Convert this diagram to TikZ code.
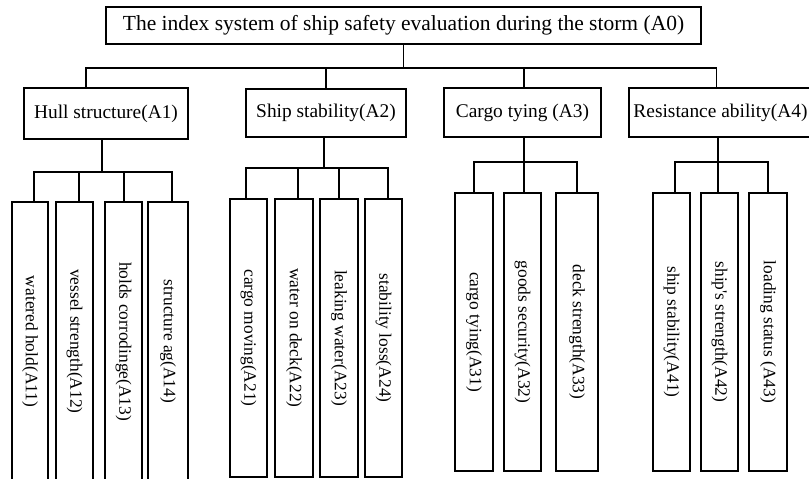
\documentclass[tikz,border=0pt]{standalone}
\usepackage{fontspec}
\setmainfont{Liberation Serif}
\begin{document}
\begin{tikzpicture}[x=1pt,y=-1pt,
  box/.style={draw, line width=1.1pt, inner sep=0pt, align=center},
  rootbox/.style={box, font=\fontsize{21.5}{24}\selectfont},
  midbox/.style={box, font=\fontsize{19.4}{22}\selectfont},
  leafbox/.style={box, font=\fontsize{17.4}{20}\selectfont},
  conn/.style={line width=1.1pt}]
\useasboundingbox (0,0) rectangle (809,479);
% root
\node[rootbox, minimum width=595pt, minimum height=37pt] (a0) at (403.5,25.5) {The index system of ship safety evaluation during the storm (A0)};
% level 1
\node[midbox, minimum width=164pt, minimum height=51pt] (a1) at (106,113.5) {Hull structure(A1)};
\node[midbox, minimum width=160pt, minimum height=48pt] (a2) at (326,113) {Ship stability(A2)};
\node[midbox, minimum width=157pt, minimum height=49pt] (a3) at (522.5,112.5) {Cargo tying (A3)};
\node[midbox, minimum width=183pt, minimum height=49pt] (a4) at (720.5,112.5) {Resistance ability(A4)};
% level 2: A1
\node[leafbox, minimum width=36pt, minimum height=279pt] (a11) at (30,341.5) {\rotatebox{-90}{watered hold(A11)}};
\node[leafbox, minimum width=37pt, minimum height=279pt] (a12) at (74.5,341.5) {\rotatebox{-90}{vessel strength(A12)}};
\node[leafbox, minimum width=37pt, minimum height=279pt] (a13) at (123.5,341.5) {\rotatebox{-90}{holds corrodinge(A13)}};
\node[leafbox, minimum width=40pt, minimum height=279pt] (a14) at (168,341.5) {\rotatebox{-90}{structure ag(A14)}};
% level 2: A2
\node[leafbox, minimum width=37pt, minimum height=278pt] (a21) at (248.5,338) {\rotatebox{-90}{cargo moving(A21)}};
\node[leafbox, minimum width=38pt, minimum height=278pt] (a22) at (294,338) {\rotatebox{-90}{water on deck(A22)}};
\node[leafbox, minimum width=38pt, minimum height=278pt] (a23) at (339,338) {\rotatebox{-90}{leaking water(A23)}};
\node[leafbox, minimum width=37pt, minimum height=278pt] (a24) at (383.5,338) {\rotatebox{-90}{stability loss(A24)}};
% level 2: A3
\node[leafbox, minimum width=38pt, minimum height=278pt] (a31) at (474,332) {\rotatebox{-90}{cargo tying(A31)}};
\node[leafbox, minimum width=37pt, minimum height=278pt] (a32) at (522.5,332) {\rotatebox{-90}{goods security(A32)}};
\node[leafbox, minimum width=42pt, minimum height=278pt] (a33) at (577,332) {\rotatebox{-90}{deck strength(A33)}};
% level 2: A4
\node[leafbox, minimum width=37pt, minimum height=278pt] (a41) at (671.5,332) {\rotatebox{-90}{ship stability(A41)}};
\node[leafbox, minimum width=37pt, minimum height=278pt] (a42) at (719.5,332) {\rotatebox{-90}{ship\textquotesingle s strength(A42)}};
\node[leafbox, minimum width=38pt, minimum height=278pt] (a43) at (768,332) {\rotatebox{-90}{loading status (A43)}};
% buses
\coordinate (b0) at (403.5,68);
\coordinate (b1) at (102,172);
\coordinate (b2) at (324,168);
\coordinate (b3) at (524,162);
\coordinate (b4) at (718,162);
% root connectors
\draw[conn] (a0.south) -- (b0);
\draw[conn] ([xshift=-20pt]a1.north) |- (b0) -| ([xshift=-3.8pt]a4.north);
\draw[conn] (b0) -| (a2.north);
\draw[conn] (b0) -| ([xshift=1.5pt]a3.north);
% A1 connectors
\draw[conn] ([xshift=-4pt]a1.south) -- (b1);
\draw[conn] ([xshift=4pt]a11.north) |- (b1) -| ([xshift=4pt]a14.north);
\draw[conn] (b1) -| ([xshift=4.5pt]a12.north);
\draw[conn] (b1) -| ([xshift=0.5pt]a13.north);
% A2 connectors
\draw[conn] ([xshift=-2pt]a2.south) -- (b2);
\draw[conn] ([xshift=-2.5pt]a21.north) |- (b2) -| ([xshift=4.5pt]a24.north);
\draw[conn] (b2) -| ([xshift=4pt]a22.north);
\draw[conn] (b2) -| (a23.north);
% A3 connectors
\draw[conn] ([xshift=1.5pt]a3.south) -- (b3);
\draw[conn] (a31.north) |- (b3) -| (a33.north);
\draw[conn] (b3) -- ([xshift=1.5pt]a32.north);
% A4 connectors
\draw[conn] ([xshift=-2.5pt]a4.south) -- (b4);
\draw[conn] ([xshift=3.5pt]a41.north) |- (b4) -| (a43.north);
\draw[conn] (b4) -- ([xshift=-1.5pt]a42.north);
\end{tikzpicture}
\end{document}
